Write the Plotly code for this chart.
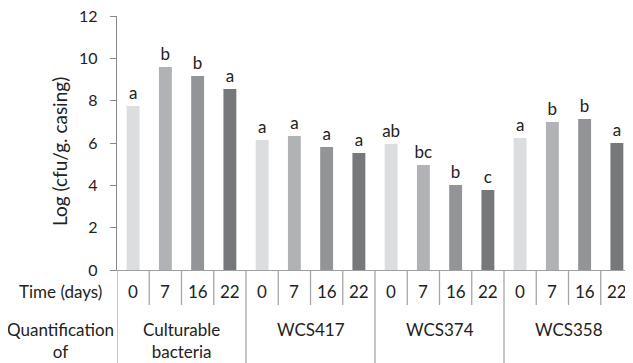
import plotly.graph_objects as go

groups = ["Culturable<br>bacteria", "WCS417", "WCS374", "WCS358"]
days = ["0", "7", "16", "22"]
values = [
    [7.75, 9.59, 9.16, 8.55],
    [6.14, 6.33, 5.81, 5.53],
    [5.95, 4.96, 4.01, 3.78],
    [6.24, 6.99, 7.13, 6.00],
]
letters = [
    ["a", "b", "b", "a"],
    ["a", "a", "a", "a"],
    ["ab", "bc", "b", "c"],
    ["a", "b", "b", "a"],
]
day_colors = ["#dcdddf", "#b1b2b5", "#939497", "#77787b"]
y_ticks = [0, 2, 4, 6, 8, 10, 12]

FONT = "Lato"
OFF = 8  # default page body margin
W, H = 633 - OFF, 363 - OFF
X0, Y0, Y12 = 117, 270, 16  # reference pixel positions of axis
ML, MT = X0 - OFF, Y12 - OFF
MB = H - (Y0 - OFF)
PH = Y0 - Y12
PW = W - ML

xs, ys, txt, cols = [], [], [], []
for g, gv in enumerate(values):
    for d, v in enumerate(gv):
        xs.append(g * 4 + d)
        ys.append(v)
        txt.append(letters[g][d])
        cols.append(day_colors[d])

fig = go.Figure(go.Bar(
    x=xs, y=ys, text=txt, textposition="outside", constraintext="none",
    marker=dict(color=cols, line=dict(width=0)),
    textfont=dict(family=FONT, size=17, color="#222"),
    cliponaxis=False, width=0.4,
))

def py(pix):
    return (Y0 - pix) / PH

def px(pix):
    return (pix - X0) / PW

shapes = []
line_col = "#a6a6a6"
for i in range(17):
    xb = i - 0.5
    y1 = py(370) if i % 4 == 0 else py(305)
    shapes.append(dict(type="line", xref="x", yref="paper", x0=xb, x1=xb,
                       y0=0, y1=y1, line=dict(color=line_col, width=1.3)))

tf = dict(family=FONT, size=17, color="#222")
ann = []
for g in range(4):
    for d in range(4):
        ann.append(dict(x=g * 4 + d, y=py(291), xref="x", yref="paper",
                        text=days[d], showarrow=False, font=tf,
                        xanchor="center", yanchor="middle"))
    ann.append(dict(x=g * 4 + 1.5, y=py(340 if g == 0 else 329), xref="x",
                    yref="paper", text=groups[g], showarrow=False, font=tf,
                    xanchor="center", yanchor="middle"))
ann.append(dict(x=px(60), y=py(291), xref="paper", yref="paper",
                text="Time (days)", showarrow=False, font=tf,
                xanchor="center", yanchor="middle"))
ann.append(dict(x=px(60), y=py(340), xref="paper", yref="paper",
                text="Quantification<br>of", showarrow=False, font=tf,
                xanchor="center", yanchor="middle"))
ann.append(dict(x=px(60), y=py(152), xref="paper", yref="paper",
                text="Log (cfu/g. casing)", showarrow=False, textangle=-90,
                font=dict(family=FONT, size=19, color="#222"),
                xanchor="center", yanchor="middle"))

fig.update_layout(
    width=W, height=H, margin=dict(l=ML, r=0, t=MT, b=MB, autoexpand=False),
    plot_bgcolor="white", paper_bgcolor="white", showlegend=False,
    xaxis=dict(range=[-0.5, 15.5], showticklabels=False, ticks="",
               showgrid=False, zeroline=False, showline=True,
               linecolor="#a0a0a0", linewidth=1.3, fixedrange=True),
    yaxis=dict(range=[0, 12], tickvals=y_ticks, ticks="outside", ticklen=6,
               tickcolor="#898989", showgrid=False, zeroline=False,
               showline=True, linecolor="#898989", linewidth=1.3,
               ticklabeloverflow="allow", ticklabelstandoff=9,
               tickfont=dict(family=FONT, size=16, color="#222")),
    shapes=shapes, annotations=ann,
)
fig.write_html("out.html")
